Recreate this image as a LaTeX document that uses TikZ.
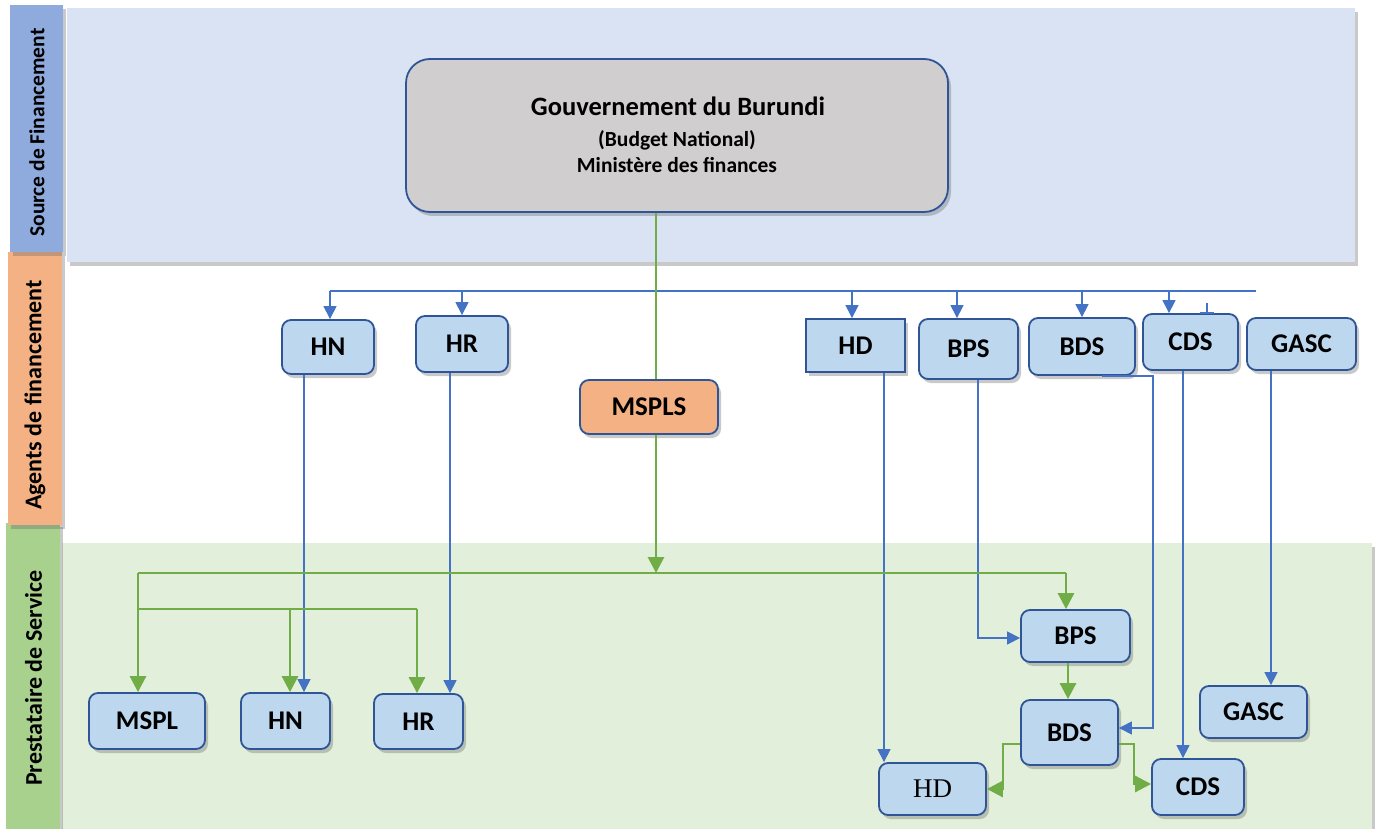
\documentclass[tikz,border=0pt]{standalone}
\usepackage{fontspec}
\setmainfont{Carlito}
\newfontfamily\timesf{Liberation Serif}
\usetikzlibrary{shadows,arrows.meta}
\definecolor{bandblue}{HTML}{DAE3F3}
\definecolor{sideblue}{HTML}{8FAADC}
\definecolor{sideorange}{HTML}{F4B183}
\definecolor{sidegreen}{HTML}{A9D18E}
\definecolor{bandgreen}{HTML}{E2EFDA}
\definecolor{boxfill}{HTML}{BDD7EE}
\definecolor{boxline}{HTML}{2F5597}
\definecolor{govfill}{HTML}{D0CECE}
\definecolor{lineblue}{HTML}{4472C4}
\definecolor{linegreen}{HTML}{70AD47}
\tikzset{
  shd/.style={drop shadow={shadow xshift=3pt,shadow yshift=-4pt,opacity=0.35,fill=black!60}},
  sidelab/.style={shd,inner sep=0pt},
  box/.style={shd,draw=boxline,line width=1.8pt,fill=boxfill,rounded corners=9pt,inner sep=0pt,font=\fontsize{27}{30}\selectfont\bfseries},
  sbox/.style={box,rounded corners=0pt},
  bl/.style={draw=lineblue,line width=1.2pt},
  bla/.style={bl,-{Triangle[width=13pt,length=13pt]}},
  gr/.style={draw=linegreen,line width=2.9pt},
  gra/.style={gr,-{Triangle[width=16pt,length=16pt]}},
}
\begin{document}
\begin{tikzpicture}[x=1pt,y=-1pt]
\useasboundingbox (0,0) rectangle (1377,829);
\fill[white] (0,0) rectangle (1377,829);
% bands
\node[shd,fill=bandgreen,minimum width=1310pt,minimum height=286pt,inner sep=0pt,anchor=north west] (bandg) at (62,543) {};
\node[shd,fill=bandblue,minimum width=1288pt,minimum height=254pt,inner sep=0pt,anchor=north west] (bandb) at (67,8) {};
% side labels
\node[sidelab,fill=sidegreen,minimum width=54pt,minimum height=306pt,anchor=north west] (lg) at (6,523) {};
\node[sidelab,fill=sideorange,minimum width=54pt,minimum height=273pt,anchor=north west] (lo) at (8,252) {};
\node[sidelab,fill=sideblue,minimum width=53pt,minimum height=247pt,anchor=north west] (lb) at (10,5) {};
\node[rotate=90,font=\fontsize{21.5}{24}\selectfont\bfseries] (tb) at (37,132.5) {Source de Financement};
\node[rotate=90,font=\fontsize{24}{27}\selectfont\bfseries] (to) at (35,395) {Agents de financement};
\node[rotate=90,font=\fontsize{24}{27}\selectfont\bfseries] (tg) at (33.5,678) {Prestataire de Service};
% government
\node[shd,draw=boxline,line width=1.8pt,fill=govfill,rounded corners=24pt,minimum width=542pt,minimum height=153pt] (gov) at (677,135.5) {};
\node[anchor=base,font=\fontsize{26.5}{30}\selectfont\bfseries] (gt1) at (678,116) {Gouvernement du Burundi};
\node[anchor=base,font=\fontsize{21.5}{24}\selectfont\bfseries] (gt2) at (677,147) {(Budget National)};
\node[anchor=base,font=\fontsize{21.5}{24}\selectfont\bfseries] (gt3) at (677,173) {Ministère des finances};
% agents
\node[box,fill=sideorange,minimum width=138pt,minimum height=54pt] (mspls) at (649,407) {MSPLS};
\node[box,minimum width=92pt,minimum height=54pt] (hnT) at (328,347) {HN};
\node[box,minimum width=92pt,minimum height=56pt] (hrT) at (462,344) {HR};
\node[sbox,minimum width=99pt,minimum height=53pt] (hdT) at (855.5,345.5) {HD};
\node[box,minimum width=99pt,minimum height=60pt] (bpsT) at (968.5,349) {BPS};
\node[box,minimum width=106pt,minimum height=57pt] (bdsT) at (1082,346.5) {BDS};
\node[box,minimum width=95pt,minimum height=56pt] (cdsT) at (1190.5,342) {CDS};
\node[box,minimum width=109pt,minimum height=52pt] (gascT) at (1301.5,344) {GASC};
% providers
\node[box,minimum width=116pt,minimum height=56pt] (msplB) at (147,721) {MSPL};
\node[box,minimum width=89pt,minimum height=56pt] (hnB) at (285.5,721) {HN};
\node[box,minimum width=89pt,minimum height=55pt] (hrB) at (418.5,721.5) {HR};
\node[box,minimum width=109pt,minimum height=52pt] (bpsB) at (1075.5,636) {BPS};
\node[box,minimum width=97pt,minimum height=65pt] (bdsB) at (1069.5,732.5) {BDS};
\node[box,minimum width=107pt,minimum height=52pt,font=\fontsize{27}{30}\selectfont\timesf] (hdB) at (932.5,789) {HD};
\node[box,minimum width=92pt,minimum height=56pt] (cdsB) at (1198,787) {CDS};
\node[box,minimum width=107pt,minimum height=52pt] (gascB) at (1253.5,712) {GASC};
% coordinates
\coordinate (bus) at (0,291);
\coordinate (xb1) at (330,0);
\coordinate (xb2) at (462,0);
\coordinate (xb3) at (852,0);
\coordinate (xb4) at (957,0);
\coordinate (xb5) at (1082,0);
\coordinate (xb6) at (1169,0);
\coordinate (xt) at (1207,0);
\coordinate (busL) at (330,291);
\coordinate (busR) at (1256,291);
\coordinate (xg) at (656,0);
\coordinate (gbus) at (0,573);
\coordinate (gbus2) at (0,609);
\coordinate (xgl) at (138,0);
\coordinate (xgr) at (1066,0);
\coordinate (xg2) at (290,0);
\coordinate (xg3) at (417,0);
\coordinate (xhn) at (304,0);
\coordinate (xhr) at (450,0);
\coordinate (xhd) at (884,0);
\coordinate (xbps) at (978,0);
\coordinate (xbds) at (1102,0);
\coordinate (xbdr) at (1153,0);
\coordinate (xcds) at (1183,0);
\coordinate (xgasc) at (1271,0);
\coordinate (xgbl) at (1003,0);
\coordinate (xgbr) at (1134,0);
% blue bus
\draw[bl] (busL) -- (busR);
\draw[bla] (xb1 |- bus) -- (xb1 |- hnT.north);
\draw[bla] (xb2 |- bus) -- (xb2 |- hrT.north);
\draw[bla] (xb3 |- bus) -- (xb3 |- hdT.north);
\draw[bla] (xb4 |- bus) -- (xb4 |- bpsT.north);
\draw[bla] (xb5 |- bus) -- (xb5 |- bdsT.north);
\draw[bla] (xb6 |- bus) -- (xb6 |- cdsT.north);
\coordinate (tt) at (1207,303);
\draw[bl] (tt) -- (xt |- cdsT.north);
\draw[bl,line width=1.6pt] ([xshift=-7pt]xt |- cdsT.north) -- ([xshift=7pt]xt |- cdsT.north);
% blue verticals
\draw[bla] (xhn |- hnT.south) -- (xhn |- hnB.north);
\draw[bla] (xhr |- hrT.south) -- (xhr |- hrB.north);
\draw[bla] (xhd |- hdT.south) -- (xhd |- hdB.north);
\draw[bla] (xbps |- bpsT.south) |- ([yshift=-2pt]bpsB.west);
\draw[bla] (xbds |- bdsT.south) -| ([yshift=4.5pt]xbdr |- bdsB.east) -- ([yshift=4.5pt]bdsB.east);
\draw[bla] (xcds |- cdsT.south) -- (xcds |- cdsB.north);
\draw[bla] (xgasc |- gascT.south) -- (xgasc |- gascB.north);
% green
\draw[gr] (xg |- gov.south) -- (xg |- mspls.north);
\draw[gra] (xg |- mspls.south) -- (xg |- gbus);
\draw[gr] (xgl |- gbus) -- (xgr |- gbus);
\draw[gra] (xgl |- gbus) -- (xgl |- msplB.north);
\draw[gra] (xgr |- gbus) -- (xgr |- bpsB.north);
\draw[gr] (xgl |- gbus2) -- (xg3 |- gbus2);
\draw[gra] (xg2 |- gbus2) -- (xg2 |- hnB.north);
\draw[gra] (xg3 |- gbus2) -- (xg3 |- hrB.north);
\draw[gra] ([xshift=-7.5pt]bpsB.south) -- ([xshift=-1.5pt]bdsB.north);
\draw[gra] ([yshift=-11.5pt]bdsB.west) -| (xgbl |- hdB.east) -- (hdB.east);
\draw[gra] ([yshift=-11.5pt]bdsB.east) -| ([yshift=3pt]xgbr |- cdsB.west) -- ([yshift=3pt]cdsB.west);
\end{tikzpicture}
\end{document}
